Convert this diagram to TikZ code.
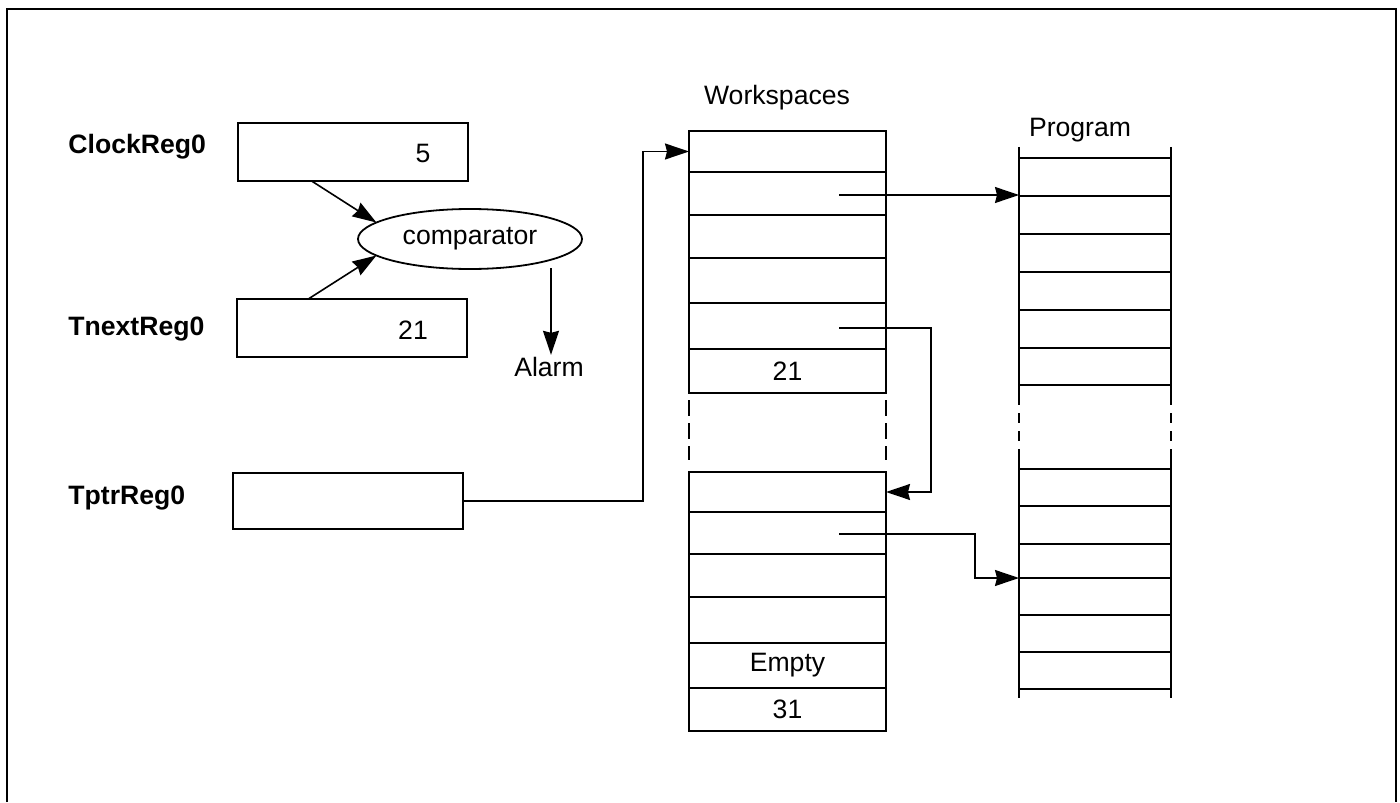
\documentclass[tikz,border=0pt]{standalone}
\usepackage{fontspec}
\setmainfont{Liberation Sans}
\usetikzlibrary{shapes.geometric,arrows.meta,calc}
\begin{document}
\begin{tikzpicture}[x=0.5pt,y=-0.5pt,
  every node/.style={font=\fontsize{13.3}{15}\selectfont},
  lbl/.style={font=\fontsize{13.3}{15}\selectfont\bfseries, anchor=west, inner sep=0},
  reg/.style={draw, line width=1pt, minimum width=115pt, inner sep=0, outer sep=0},
  wsrow/.style={draw, line width=0.9pt, minimum width=98.5pt, inner sep=0, outer sep=0},
  arr/.style={-{Stealth[length=12pt,width=8pt,inset=1pt]}, line width=0.8pt},
  prog/.style={line width=0.9pt},
  dash1/.style={line width=0.9pt, dash pattern=on 8pt off 3.5pt},
  dash2/.style={line width=0.9pt, dash pattern=on 5pt off 4pt}
]
\useasboundingbox (0,0) rectangle (1400,802);
% frame
\draw[line width=0.75pt] (7,802) -- (7,9) -- (1396,9) -- (1396,802);

% registers
\node[lbl] (clkl) at (68,147) {ClockReg0};
\node[lbl] (tnxl) at (68,329) {TnextReg0};
\node[lbl] (tptl) at (68,498) {TptrReg0};
\node[reg, minimum height=29pt] (clk) at (353,152) {};
\node[reg, minimum height=29pt] (tnx) at (352,328) {};
\node[reg, minimum height=28pt] (tpt) at (348,501) {};
\node (clkv) at (423,153) {5};
\node (tnxv) at (413,330) {21};

% comparator
\node[draw, ellipse, line width=0.9pt, minimum width=112pt, minimum height=30pt, inner sep=0, outer sep=0] (cmp) at (470,239) {comparator};
\draw[arr] ($(clk.south west)!0.32!(clk.south east)$) -- (cmp.170);
\draw[arr] ($(tnx.north west)!0.31!(tnx.north east)$) -- (cmp.190);
\coordinate (a0) at (551,268);
\node[inner sep=1pt] (alarm) at (549,367) {Alarm};
\draw[arr] (a0) -- (a0 |- alarm.north);

% workspaces
\node (wst) at (777,98) {Workspaces};
\node[wsrow, minimum height=20.5pt] (u1) at (787.5,151.5) {};
\node[wsrow, minimum height=21.5pt] (u2) at (787.5,193.5) {};
\node[wsrow, minimum height=21.5pt] (u3) at (787.5,236.5) {};
\node[wsrow, minimum height=22.5pt] (u4) at (787.5,280.5) {};
\node[wsrow, minimum height=23pt] (u5) at (787.5,326) {};
\node[wsrow, minimum height=22pt] (u6) at (787.5,371) {21};

\node[wsrow, minimum height=20pt] (l1) at (787.5,492) {};
\node[wsrow, minimum height=21pt] (l2) at (787.5,533) {};
\node[wsrow, minimum height=21.5pt] (l3) at (787.5,575.5) {};
\node[wsrow, minimum height=23pt] (l4) at (787.5,620) {};
\node[wsrow, minimum height=22.5pt] (l5) at (787.5,665.5) {Empty};
\node[wsrow, minimum height=21.5pt] (l6) at (787.5,709.5) {31};

\draw[dash1] (689,400) -- (689,460);
\draw[dash1] (886,400) -- (886,460);

% program
\node (pt) at (1080,130) {Program};
\draw[prog] (1019,147) -- (1019,395);
\draw[prog] (1171,147) -- (1171,395);
\draw[dash2] (1019,395) -- (1019,458);
\draw[dash2] (1171,395) -- (1171,458);
\draw[prog] (1019,458) -- (1019,698);
\draw[prog] (1171,458) -- (1171,698);
\foreach \y in {158,196,234,272,310,348,385,469,506,544,578,615,652,689}
  \draw[line width=0.75pt] (1019,\y) -- (1171,\y);

% connectors
\coordinate (k1) at (643,501);
\draw[arr] (tpt.east) -- (k1) |- (u1.west);

\coordinate (s2) at (839,195);
\coordinate (p2) at (1019,195);
\draw[arr] (s2) -- (p2);

\coordinate (s5) at (839,328);
\coordinate (k5) at (931,328);
\draw[arr] (s5) -- (k5) |- (l1.east);

\coordinate (s8) at (839,534);
\coordinate (k8) at (975,534);
\coordinate (p8) at (1019,578);
\draw[arr] (s8) -- (k8) |- (p8);
\end{tikzpicture}
\end{document}
